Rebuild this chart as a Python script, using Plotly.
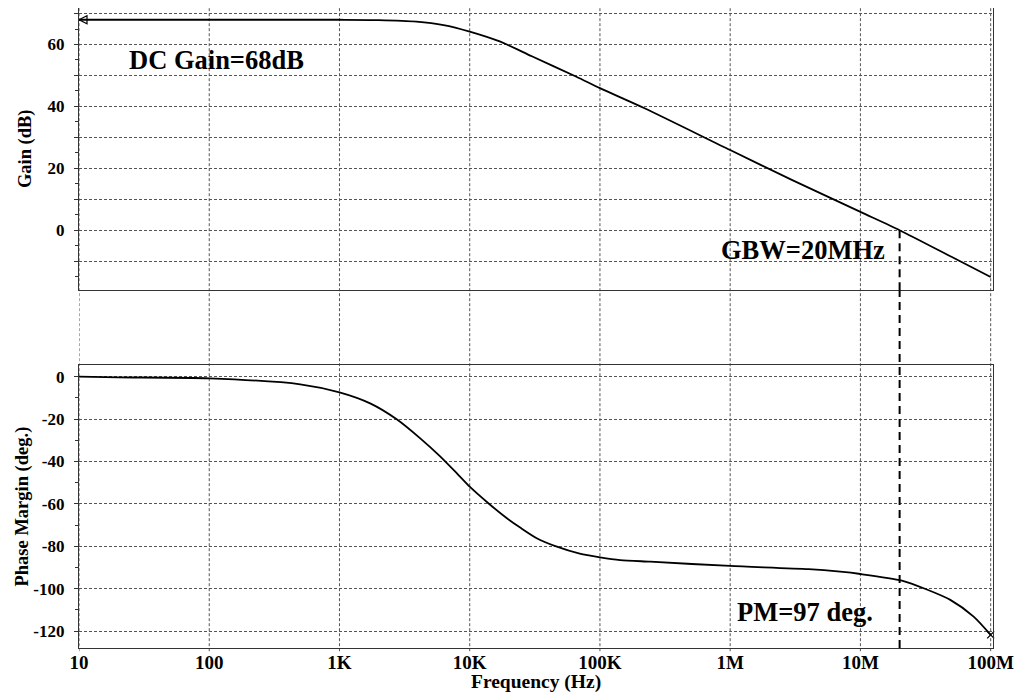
import plotly.graph_objects as go

# ---------------- data ----------------
gain_freq = [10, 100, 1000, 2000, 3900, 6300, 10000, 17000, 30000, 66000,
             1e5, 2.2e5, 1e6, 3e6, 1e7, 2e7, 5e7, 1e8]
gain_db = [68, 68, 68, 67.9, 67.4, 66.3, 64.2, 61, 56.2, 49.6,
           45.9, 39.4, 25.9, 16.2, 5.9, 0, -8.6, -15.1]

phase_freq = [10, 20, 100, 500, 1000, 1720, 2750, 4170, 5900, 8200, 10000,
              13900, 19300, 24400, 32700, 46700, 70000, 1e5, 1.43e5, 2.43e5,
              1e6, 4e6, 7e6, 1e7, 2.08e7, 3.2e7, 4.9e7, 7.4e7, 1e8]
phase_deg = [0, -0.3, -0.8, -3.6, -7.4, -12.6, -20.1, -29.1, -37.5, -46.4, -51.9,
             -59.7, -66.8, -71.2, -76.2, -80.2, -83.5, -85.2, -86.5, -87.3,
             -89.3, -90.8, -92, -93.1, -96.2, -100.3, -105.3, -113.2, -121.8]

x_tickvals = [10, 100, 1e3, 1e4, 1e5, 1e6, 1e7, 1e8]
x_ticktext = ["10", "100", "1K", "10K", "100K", "1M", "10M", "100M"]

gain_grid = [-10, 0, 10, 20, 30, 40, 50, 60, 70]
gain_labels = ["", "0", "", "20", "", "40", "", "60", ""]
phase_grid = [-120, -100, -80, -60, -40, -20, 0]
phase_labels = ["-120", "-100", "-80", "-60", "-40", "-20", "0"]

gbw_freq = 20e6
gbw_gain = 0
dc_gain_text = "DC Gain=68dB"
gbw_text = "GBW=20MHz"
pm_text = "PM=97 deg."

# ---------------- styling ----------------
FONT = "Liberation Serif"
GRID = "#555555"
FRAME = "#333333"
TOP_DOM = [0.559, 1.0]
BOT_DOM = [0.0, 0.4422]
XRANGE = [1, 8.018]
TOP_RANGE = [-19.4, 71.8]
BOT_RANGE = [-128, 5.5]

fig = go.Figure()

fig.add_trace(go.Scatter(x=gain_freq, y=gain_db, mode="lines",
                         line=dict(color="black", width=1.8, shape="spline", smoothing=0.7),
                         xaxis="x", yaxis="y", showlegend=False))
fig.add_trace(go.Scatter(x=phase_freq, y=phase_deg, mode="lines",
                         line=dict(color="black", width=1.8, shape="spline", smoothing=0.7),
                         xaxis="x2", yaxis="y2", showlegend=False))
# end markers
fig.add_trace(go.Scatter(x=[gain_freq[0]], y=[gain_db[0]], mode="markers",
                         marker=dict(symbol="arrow-left-open", size=8, color="black",
                                     line=dict(color="black", width=1.2)),
                         xaxis="x", yaxis="y", showlegend=False, cliponaxis=False))
fig.add_trace(go.Scatter(x=[phase_freq[-1]], y=[phase_deg[-1]], mode="markers",
                         marker=dict(symbol="x-thin-open", size=7, color="black",
                                     line=dict(color="black", width=1.3)),
                         xaxis="x2", yaxis="y2", showlegend=False, cliponaxis=False))

axis_common = dict(showline=True, linecolor=FRAME, linewidth=1.2, mirror=True,
                   zeroline=False, automargin=False)
tick_font_y = dict(family=FONT, size=17, color="black", weight="bold")
tick_font_x = dict(family=FONT, size=19, color="black", weight="bold")

fig.update_layout(
    template="none",
    width=1023, height=698,
    margin=dict(l=71, r=38, t=0, b=58, autoexpand=False),
    plot_bgcolor="white", paper_bgcolor="white",
    font=dict(family=FONT, color="black"),
    xaxis=dict(type="log", range=XRANGE, domain=[0, 1], anchor="y",
               tickvals=x_tickvals, showticklabels=False, ticks="",
               showgrid=False, **axis_common),
    xaxis2=dict(type="log", range=XRANGE, domain=[0, 1], anchor="y2",
                tickvals=x_tickvals, ticktext=x_ticktext, ticks="",
                tickfont=tick_font_x, ticklabelstandoff=-3,
                showgrid=False, **axis_common),
    yaxis=dict(domain=TOP_DOM, range=TOP_RANGE, anchor="x",
               tickmode="array", tickvals=gain_grid, ticktext=gain_labels,
               ticks="outside", ticklen=4, tickcolor=FRAME,
               tickfont=tick_font_y, ticklabelstandoff=6,
               showgrid=True, gridcolor=GRID, gridwidth=1, griddash="3px,2px",
               minor=dict(dtick=5, tick0=0, ticks="outside", ticklen=3,
                          tickcolor=FRAME, showgrid=False),
               **axis_common),
    yaxis2=dict(domain=BOT_DOM, range=BOT_RANGE, anchor="x2",
                tickmode="array", tickvals=phase_grid, ticktext=phase_labels,
                ticks="outside", ticklen=4, tickcolor=FRAME,
                tickfont=tick_font_y, ticklabelstandoff=6,
                showgrid=True, gridcolor=GRID, gridwidth=1, griddash="3px,2px",
                minor=dict(dtick=10, tick0=0, ticks="outside", ticklen=3,
                           tickcolor=FRAME, showgrid=False),
                **axis_common),
)

shapes = []
# vertical decade grid lines spanning both panels and the gap
for xv in x_tickvals:
    shapes.append(dict(type="line", xref="x", yref="paper", x0=xv, x1=xv, y0=-0.005, y1=1,
                       line=dict(color=GRID, width=1, dash="3px,2px"), layer="below"))
# GBW dashed marker: top panel part + rest down to bottom
shapes.append(dict(type="line", xref="x", yref="y", x0=gbw_freq, x1=gbw_freq,
                   y0=gbw_gain, y1=TOP_RANGE[0], line=dict(color="black", width=2, dash="8px,5px")))
shapes.append(dict(type="line", xref="x", yref="paper", x0=gbw_freq, x1=gbw_freq,
                   y0=0, y1=TOP_DOM[0], line=dict(color="black", width=2, dash="8px,5px")))
fig.update_layout(shapes=shapes)

ann = []
ann.append(dict(text="<b>" + dc_gain_text + "</b>", xref="x", yref="y", x=1.369, y=55,
                xanchor="left", yanchor="middle", showarrow=False,
                font=dict(family=FONT, size=26.5, color="black")))
ann.append(dict(text="<b>" + gbw_text + "</b>", xref="x", yref="y", x=5.915, y=-6.5,
                xanchor="left", yanchor="middle", showarrow=False,
                font=dict(family=FONT, size=26.5, color="black")))
ann.append(dict(text="<b>" + pm_text + "</b>", xref="x2", yref="y2", x=6.038, y=-111,
                xanchor="left", yanchor="middle", showarrow=False,
                font=dict(family=FONT, size=26.5, color="black")))
# axis titles
ann.append(dict(text="<b>Gain (dB)</b>", xref="paper", yref="paper", x=0,
                y=(TOP_DOM[0] + TOP_DOM[1]) / 2, xshift=-54, textangle=-90,
                xanchor="center", yanchor="middle", showarrow=False,
                font=dict(family=FONT, size=18.5, color="black")))
ann.append(dict(text="<b>Phase Margin (deg.)</b>", xref="paper", yref="paper", x=0,
                y=(BOT_DOM[0] + BOT_DOM[1]) / 2, xshift=-57, textangle=-90,
                xanchor="center", yanchor="middle", showarrow=False,
                font=dict(family=FONT, size=18.5, color="black")))
ann.append(dict(text="<b>Frequency (Hz)</b>", xref="paper", yref="paper", x=0.5, y=0,
                yshift=-34, xanchor="center", yanchor="middle", showarrow=False,
                font=dict(family=FONT, size=19.5, color="black")))
fig.update_layout(annotations=ann)

fig.write_html("out.html")
